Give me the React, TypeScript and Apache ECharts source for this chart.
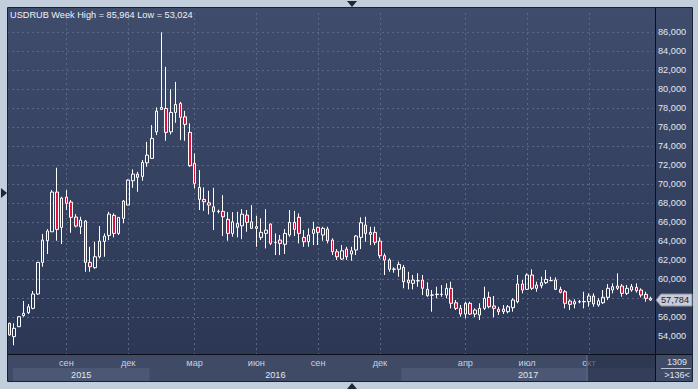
import React, { useEffect, useRef } from "react";
import * as echarts from "echarts";

// Weekly USD/RUB candles (rubles)
const opens = [
  55.34, 53.93, 54.98, 56.14, 56.45, 56.91, 58.42, 61.75, 64.03, 64.97,
  69.15, 65.43, 68.62, 68.1, 66.52, 65.5, 66.1, 61.75, 61.19, 62.34,
  63.96, 64.59, 66.7, 64.8, 66.38, 67.78, 70.34, 71.04, 70.8, 72.23,
  72.69, 75.49, 77.85, 77.95, 75.49, 77.53, 78.48, 77.07, 75.43, 72.17,
  69.64, 68.38, 68.02, 67.6, 67.1, 67.12, 66.28, 64.8, 65.86, 65.6,
  66.73, 66.02, 65.33, 64.38, 64.8, 65.78, 63.86, 64.1, 63.65, 64.63,
  65.96, 66.49, 64.38, 63.92, 64.8, 65.44, 64.63, 65.26, 64.1, 62.87,
  62.1, 63.15, 62.63, 63.05, 64.38, 65.68, 64.7, 64.91, 63.99, 62.45,
  62.0, 61.02, 61.02, 61.23, 59.89, 59.54, 59.8, 59.89, 58.91, 58.3,
  58.36, 58.38, 58.31, 59.02, 57.5, 56.91, 56.31, 57.44, 56.31, 56.21,
  56.91, 58.07, 57.16, 56.81, 56.84, 56.56, 56.98, 57.61, 59.47, 58.91,
  60.42, 59.02, 59.29, 59.61, 59.82, 59.89, 58.91, 58.66, 57.68, 57.37,
  57.58, 57.6, 57.61, 58.21, 57.26, 57.5, 58.07, 58.84, 59.26, 59.26,
  58.49, 58.84, 59.12, 58.84, 58.38, 57.97,
];
const closes = [
  54.11, 54.81, 56.03, 56.39, 57.08, 58.42, 61.75, 64.1, 65.05, 69.15,
  65.22, 68.52, 67.96, 66.49, 65.57, 66.2, 61.75, 61.29, 62.34, 63.99,
  64.52, 66.83, 64.8, 66.49, 68.2, 70.41, 71.04, 70.7, 72.27, 73.04,
  74.8, 77.67, 78.06, 75.43, 77.53, 78.37, 77.01, 76.27, 71.92, 70.06,
  68.38, 68.13, 67.78, 67.08, 67.14, 66.55, 64.8, 66.02, 65.44, 66.83,
  65.96, 65.33, 65.5, 64.91, 65.15, 63.75, 63.84, 63.75, 64.8, 65.96,
  65.22, 64.8, 63.92, 64.63, 65.22, 64.91, 65.33, 64.03, 62.87, 62.34,
  62.97, 62.34, 62.97, 64.52, 65.92, 64.8, 64.9, 63.86, 62.45, 62.0,
  61.02, 61.05, 61.54, 59.71, 59.61, 59.89, 59.82, 59.02, 58.24, 58.32,
  58.4, 58.4, 59.02, 57.44, 56.91, 56.31, 57.44, 56.31, 56.74, 56.91,
  57.97, 57.08, 56.91, 56.56, 56.56, 57.08, 57.79, 59.47, 58.84, 60.42,
  59.02, 59.36, 59.61, 59.96, 59.84, 58.91, 58.6, 57.44, 57.33, 57.61,
  57.62, 57.63, 58.21, 57.37, 57.71, 58.07, 59.02, 59.19, 59.02, 58.49,
  59.02, 59.19, 58.77, 58.31, 57.97, 57.784,
];
const lows = [
  54.02, 53.024, 54.95, 56.03, 56.31, 56.81, 58.31, 61.29, 62.63, 64.97,
  64.03, 63.68, 67.26, 64.87, 65.43, 64.73, 60.76, 60.76, 61.08, 62.17,
  62.34, 64.1, 64.38, 64.63, 65.86, 67.78, 69.6, 69.18, 70.34, 71.81,
  72.69, 75.15, 77.85, 74.55, 75.22, 76.44, 74.62, 74.55, 71.81, 69.54,
  67.26, 67.18, 66.8, 65.15, 66.9, 64.52, 64.03, 64.45, 64.38, 64.2,
  64.97, 65.3, 63.39, 64.1, 63.22, 63.57, 62.52, 62.52, 62.63, 64.45,
  64.52, 63.75, 63.39, 63.39, 63.57, 63.57, 64.03, 63.75, 62.52, 62.0,
  62.0, 62.0, 61.92, 62.52, 63.15, 63.92, 63.57, 63.57, 62.17, 60.42,
  60.76, 60.66, 60.24, 59.02, 58.91, 58.91, 59.19, 58.31, 58.13, 56.56,
  57.97, 58.13, 57.97, 56.91, 56.74, 56.03, 55.86, 56.21, 55.97, 55.68,
  56.74, 56.91, 55.97, 56.21, 56.31, 56.38, 56.56, 57.44, 58.49, 58.84,
  58.84, 58.66, 59.02, 59.47, 59.78, 58.84, 58.49, 56.91, 56.74, 56.91,
  57.44, 56.91, 57.08, 57.08, 57.08, 57.37, 57.79, 58.49, 58.84, 58.13,
  58.31, 58.66, 58.56, 58.07, 57.61, 57.7,
];
const highs = [
  55.4, 55.34, 56.05, 57.68, 57.37, 58.73, 61.8, 64.73, 65.26, 69.36,
  71.71, 68.65, 69.36, 68.31, 66.83, 66.55, 66.2, 63.39, 63.92, 65.57,
  64.8, 67.08, 66.91, 66.49, 68.31, 70.49, 71.54, 71.28, 72.52, 74.44,
  76.2, 78.06, 85.964, 82.33, 79.98, 80.75, 78.65, 77.7, 76.38, 73.22,
  71.46, 69.64, 69.29, 69.6, 67.3, 68.83, 67.04, 67.04, 67.08, 67.36,
  67.26, 67.78, 66.66, 66.38, 67.36, 65.86, 64.8, 64.63, 65.26, 67.26,
  67.18, 66.91, 65.15, 65.33, 66.02, 65.5, 65.5, 65.5, 64.28, 63.15,
  63.57, 63.39, 63.39, 64.63, 66.49, 66.55, 65.5, 65.5, 64.38, 62.7,
  62.17, 61.23, 61.82, 61.47, 60.76, 60.42, 60.6, 60.42, 59.65, 58.84,
  59.19, 59.36, 59.54, 59.71, 57.79, 57.26, 57.61, 57.61, 56.91, 57.44,
  59.19, 58.66, 58.21, 57.08, 57.26, 57.26, 57.97, 60.42, 59.89, 60.6,
  61.02, 59.71, 60.24, 60.94, 60.24, 60.17, 59.19, 58.84, 57.86, 57.86,
  57.79, 58.66, 58.49, 58.49, 57.97, 58.84, 59.47, 59.54, 60.6, 59.47,
  59.36, 59.47, 59.54, 59.02, 58.66, 58.14,
];

// Month ticks: [week index, label]
const monthTicks: Array<[number, string]> = [
  [12, "сен"], [25, "дек"], [39, "мар"], [52, "июн"], [65, "сен"],
  [78, "дек"], [96, "апр"], [109, "июл"], [122, "окт"],
];
// Year rows: [first week index, label]
const yearRows: Array<[number, string]> = [[0, "2015"], [30, "2016"], [83, "2017"]];
const shadedFromWeek = 122;

const titleText = "USDRUB Week High = 85,964 Low = 53,024";
const lastPriceText = "57,784";
const barCountText = "1309";
const visibleBarsText = ">136<";

const FONT = '"Liberation Sans", Arial, sans-serif';

export default function App() {
  const ref = useRef<HTMLDivElement>(null);

  useEffect(() => {
    const el = ref.current!;
    const chart = echarts.init(el, null, { renderer: "svg" });
    const weeks = opens.map((_, i) => "W" + (i + 1));
    const data = opens.map((o, i) => [o, closes[i], lows[i], highs[i]]);
    const monthMap = new Map<number, string>(monthTicks);
    const lastClose = closes[closes.length - 1];
    const grid = { left: 7, right: 45, top: 13, bottom: 34 };
    const gridColor = "#5a6785";

    const yColors: string[] = [];
    for (let v = 52; v <= 88; v += 2) yColors.push(v === 52 || v === 88 ? "rgba(0,0,0,0)" : gridColor);

    chart.setOption({
      animation: false,
      grid,
      xAxis: {
        type: "category",
        data: weeks,
        boundaryGap: true,
        axisLine: { show: false },
        axisTick: { show: false },
        axisLabel: {
          interval: (i: number) => monthMap.has(i),
          formatter: (_v: string, i: number) => monthMap.get(i) ?? "",
          color: "#c9d1e0",
          fontSize: 9.2,
          fontFamily: FONT,
          margin: 3,
        },
        splitLine: {
          show: true,
          alignWithLabel: true,
          interval: (i: number) => monthMap.has(i),
          lineStyle: { color: gridColor, type: [2, 3], width: 1 },
        },
      },
      yAxis: {
        type: "value",
        position: "right",
        min: 52,
        max: 88,
        interval: 2,
        axisLine: { show: false },
        axisTick: { show: false },
        axisLabel: {
          showMinLabel: false,
          showMaxLabel: false,
          margin: 5,
          color: "#e2e8f2",
          fontSize: 9.2,
          fontFamily: FONT,
          // the last-price tag covers the tick label it sits on
          formatter: (v: number) => (Math.abs(v - lastClose) < 1 ? "" : v.toFixed(3).replace(".", ",")),
        },
        splitLine: {
          show: true,
          showMinLine: false,
          showMaxLine: false,
          lineStyle: { color: yColors, type: [2, 3], width: 1 },
        },
      },
      series: [
        {
          type: "candlestick",
          data,
          barWidth: 3,
          itemStyle: {
            color: "rgba(0,0,0,0)",
            color0: "#dc143c",
            borderColor: "#ffffff",
            borderColor0: "#ffffff",
            borderWidth: 1,
          },
        },
      ],
    });

    const n = opens.length;
    const gridRight = 698 - grid.right;
    const px = (i: number) => chart.convertToPixel({ xAxisIndex: 0 }, weeks[i]) as number;
    const py = (v: number) => chart.convertToPixel({ yAxisIndex: 0 }, v) as number;
    const bound = (k: number) =>
      k <= 0 ? grid.left : k >= n ? gridRight : (px(k - 1) + px(k)) / 2;

    const plotRight = 655;
    const axisTop = 355;
    const frameBottom = 381;
    const txt = (text: string, x: number, y: number, fill: string, size: number, align = "center", z = 70) => ({
      type: "text",
      z,
      silent: true,
      style: {
        text, x, y, fill,
        font: `${size}px ${FONT}`,
        textAlign: align,
        textVerticalAlign: "middle",
      },
    });

    const elements: any[] = [
      { type: "rect", z: -20, silent: true, shape: { x: 0, y: 0, width: 698, height: 389 }, style: { fill: "#c3cedc" } },
      {
        type: "rect", z: -19, silent: true,
        shape: { x: 8, y: 8, width: 684, height: axisTop - 8 },
        style: {
          fill: new echarts.graphic.LinearGradient(0, 0, 0, 1, [
            { offset: 0, color: "#3f4c6b" },
            { offset: 1, color: "#2b3755" },
          ]),
        },
      },
      { type: "rect", z: -19, silent: true, shape: { x: 8, y: axisTop, width: 684, height: frameBottom - axisTop }, style: { fill: "#3e4a66" } },
    ];

    // Year rows (alternating bands)
    yearRows.forEach(([start, label], idx) => {
      const endIdx = idx + 1 < yearRows.length ? yearRows[idx + 1][0] : n;
      const x0 = idx === 0 ? 13 : bound(start);
      const x1 = idx + 1 < yearRows.length ? bound(endIdx) : plotRight;
      if (idx % 2 === 0) {
        elements.push({ type: "rect", z: -18, silent: true, shape: { x: x0, y: 368, width: x1 - x0, height: frameBottom - 368 }, style: { fill: "#4b5775" } });
      }
      elements.push(txt(label, (x0 + x1) / 2, 374.5, "#e0e6f0", 9.2, "center", 40));
    });

    // Shaded tail region of the time axis
    const xs = bound(shadedFromWeek);
    elements.push(
      { type: "rect", z: 50, silent: true, shape: { x: xs, y: axisTop, width: plotRight - xs, height: frameBottom - axisTop }, style: { fill: "rgba(36,45,68,0.6)" } },
      { type: "line", z: 51, silent: true, shape: { x1: xs + 0.5, y1: axisTop, x2: xs + 0.5, y2: frameBottom }, style: { stroke: "#6f7b93", lineWidth: 1 } },
    );

    // Frame lines
    elements.push(
      { type: "line", z: 60, silent: true, shape: { x1: 8, y1: 354.5, x2: 692, y2: 354.5 }, style: { stroke: "#0c0f16", lineWidth: 1 } },
      { type: "line", z: 60, silent: true, shape: { x1: plotRight + 0.5, y1: 8, x2: plotRight + 0.5, y2: frameBottom }, style: { stroke: "#0c0f16", lineWidth: 1 } },
      { type: "rect", z: 60, silent: true, shape: { x: 7.5, y: 7.5, width: 685, height: frameBottom - 7 }, style: { fill: "none", stroke: "#1b2130", lineWidth: 1 } },
    );

    // Navigation triangles
    const triFill = "#1e2638";
    elements.push(
      { type: "polygon", z: 60, silent: true, shape: { points: [[347, 1], [357, 1], [352, 7]] }, style: { fill: triFill } },
      { type: "polygon", z: 60, silent: true, shape: { points: [[1, 188], [1, 198], [7, 193]] }, style: { fill: triFill } },
      { type: "polygon", z: 60, silent: true, shape: { points: [[347, 389], [357, 389], [352, 383]] }, style: { fill: triFill } },
    );

    // Title
    elements.push(txt(titleText, 10, 15, "#eef2f8", 9.2, "left"));

    // Bottom-right cell
    elements.push(
      txt(barCountText, 677, 362, "#dfe5ef", 9),
      { type: "line", z: 70, silent: true, shape: { x1: 661, y1: 368.5, x2: 691, y2: 368.5 }, style: { stroke: "#b9c2d2", lineWidth: 1 } },
      txt(visibleBarsText, 677, 375, "#dfe5ef", 9),
    );

    // Last price tag
    const yp = py(lastClose);
    elements.push(
      {
        type: "polygon", z: 70, silent: true,
        shape: { points: [[656, yp], [661, yp - 6], [692, yp - 6], [692, yp + 6], [661, yp + 6]] },
        style: { fill: "#c9cdd5", stroke: "#8d93a2", lineWidth: 1 },
      },
      txt(lastPriceText, 675, yp, "#1c2230", 9.2, "center", 71),
    );

    chart.setOption({ graphic: { elements } });

    return () => chart.dispose();
  }, []);

  return (
    <div
      ref={ref}
      style={{ position: "absolute", left: 0, top: 0, width: 698, height: 389 }}
    />
  );
}
